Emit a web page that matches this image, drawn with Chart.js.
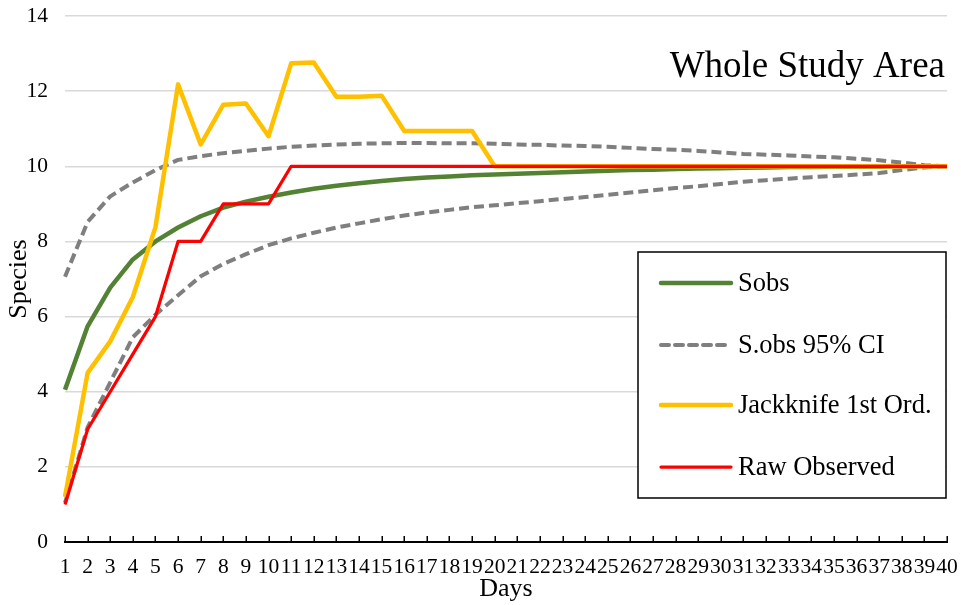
<!DOCTYPE html>
<html>
<head>
<meta charset="utf-8">
<title>Whole Study Area</title>
<script src="https://cdn.jsdelivr.net/npm/chart.js@4/dist/chart.umd.min.js"></script>
<style>
  html, body { margin: 0; padding: 0; background: #ffffff; }
  #wrap { width: 961px; height: 605px; position: relative; }
</style>
</head>
<body>
<div id="wrap"><canvas id="chart" width="961" height="605"></canvas></div>
<script>
// Sampling days
const days = ['1','2','3','4','5','6','7','8','9','10','11','12','13','14','15','16','17','18','19','20',
              '21','22','23','24','25','26','27','28','29','30','31','32','33','34','35','36','37','38','39','40'];

// Mean observed richness (Sobs)
const sobs = [4.05, 5.74, 6.77, 7.52, 8.00, 8.37, 8.67, 8.90, 9.06, 9.19,
              9.30, 9.40, 9.48, 9.55, 9.61, 9.66, 9.70, 9.73, 9.76, 9.78,
              9.80, 9.82, 9.84, 9.86, 9.88, 9.90, 9.91, 9.93, 9.94, 9.95,
              9.96, 9.97, 9.98, 9.98, 9.99, 9.99, 9.99, 10.0, 10.0, 10.0];

// 95% confidence bounds of Sobs
const ciUpper = [7.06, 8.52, 9.20, 9.57, 9.90, 10.17, 10.27, 10.35, 10.41, 10.47,
                 10.52, 10.55, 10.58, 10.60, 10.61, 10.62, 10.62, 10.61, 10.61, 10.60,
                 10.58, 10.57, 10.55, 10.54, 10.52, 10.49, 10.46, 10.44, 10.41, 10.37,
                 10.33, 10.31, 10.29, 10.26, 10.24, 10.20, 10.16, 10.10, 10.03, 10.0];
const ciLower = [1.04, 3.05, 4.25, 5.45, 6.05, 6.57, 7.07, 7.40, 7.66, 7.90,
                 8.08, 8.23, 8.37, 8.48, 8.59, 8.69, 8.77, 8.84, 8.91, 8.96,
                 9.02, 9.07, 9.13, 9.18, 9.24, 9.30, 9.36, 9.42, 9.47, 9.53,
                 9.59, 9.63, 9.67, 9.71, 9.74, 9.78, 9.82, 9.90, 9.97, 10.0];

// First-order jackknife estimate
const jackknife = [1.20, 4.50, 5.34, 6.52, 8.38, 12.18, 10.58, 11.64, 11.67, 10.80,
                   12.74, 12.76, 11.85, 11.85, 11.88, 10.94, 10.94, 10.94, 10.94, 10.0,
                   10, 10, 10, 10, 10, 10, 10, 10, 10, 10,
                   10, 10, 10, 10, 10, 10, 10, 10, 10, 10];

// Cumulative raw species count
const rawObserved = [1, 3, 4, 5, 6, 8, 8, 9, 9, 9,
                     10, 10, 10, 10, 10, 10, 10, 10, 10, 10,
                     10, 10, 10, 10, 10, 10, 10, 10, 10, 10,
                     10, 10, 10, 10, 10, 10, 10, 10, 10, 10];

const yTicks = [0, 2, 4, 6, 8, 10, 12, 14];

const SERIF = "'Liberation Serif', 'Times New Roman', serif";
const GREEN = '#548235', GRAY = '#7f7f7f', GOLD = '#FFC000', RED = '#FF0000';
const DASH = [10, 5];

// Legend entries (the two CI bounds share one entry)
const legendItems = [
  { text: 'Sobs', color: GREEN, width: 4.5, dash: [] },
  { text: 'S.obs 95% CI', color: GRAY, width: 4, dash: [8, 6] },
  { text: 'Jackknife 1st Ord.', color: GOLD, width: 4.5, dash: [] },
  { text: 'Raw Observed', color: RED, width: 3.25, dash: [] }
];

// Inward tick marks on the category axis
const innerTicks = {
  id: 'innerTicks',
  afterDatasetsDraw(chart) {
    const x = chart.scales.x, ctx = chart.ctx, y0 = chart.chartArea.bottom;
    ctx.save();
    ctx.strokeStyle = '#000';
    ctx.lineWidth = 1.5;
    ctx.beginPath();
    for (let i = 0; i < x.ticks.length; i++) {
      const px = Math.round(x.getPixelForTick(i)) + 0.25;
      ctx.moveTo(px, y0);
      ctx.lineTo(px, y0 - 6);
    }
    ctx.stroke();
    ctx.restore();
  }
};

// In-plot title and boxed legend
const overlay = {
  id: 'overlay',
  afterDraw(chart) {
    const ctx = chart.ctx, a = chart.chartArea;
    ctx.save();
    ctx.fillStyle = '#000';
    ctx.font = '37px ' + SERIF;
    ctx.textAlign = 'right';
    ctx.textBaseline = 'alphabetic';
    ctx.fillText('Whole Study Area', a.right - 2, 77);

    const bx = a.right - 309, by = 252, bw = 308, bh = 246;
    ctx.fillStyle = '#fff';
    ctx.fillRect(bx, by, bw, bh);
    ctx.strokeStyle = '#000';
    ctx.lineWidth = 1.5;
    ctx.strokeRect(bx, by, bw, bh);

    const rows = [283, 345, 405, 467];
    ctx.font = '26.5px ' + SERIF;
    ctx.textAlign = 'left';
    ctx.textBaseline = 'middle';
    legendItems.forEach((it, i) => {
      const y = rows[i];
      ctx.beginPath();
      ctx.strokeStyle = it.color;
      ctx.lineWidth = it.width;
      ctx.lineCap = 'round';
      ctx.setLineDash(it.dash);
      ctx.moveTo(bx + 23, y);
      ctx.lineTo(bx + 93, y);
      ctx.stroke();
      ctx.setLineDash([]);
      ctx.fillStyle = '#000';
      ctx.fillText(it.text, bx + 100, y + 1);
    });
    ctx.restore();
  }
};

const line = (label, data, color, width, order, dash) => ({
  label, data,
  borderColor: color,
  backgroundColor: color,
  borderWidth: width,
  borderDash: dash || [],
  pointRadius: 0,
  pointHoverRadius: 0,
  tension: 0,
  fill: false,
  borderJoinStyle: 'round',
  order
});

new Chart(document.getElementById('chart'), {
  type: 'line',
  data: {
    labels: days,
    datasets: [
      line('Sobs', sobs, GREEN, 4.5, 4),
      line('S.obs 95% CI', ciUpper, GRAY, 4, 3, DASH),
      line('S.obs 95% CI lower', ciLower, GRAY, 4, 2, DASH),
      line('Jackknife 1st Ord.', jackknife, GOLD, 4.5, 1),
      line('Raw Observed', rawObserved, RED, 3.25, 0)
    ]
  },
  options: {
    responsive: false,
    animation: false,
    events: [],
    layout: { padding: { top: 16, right: 14, bottom: 0, left: 0 } },
    plugins: {
      legend: { display: false },
      title: { display: false },
      tooltip: { enabled: false }
    },
    scales: {
      x: {
        type: 'category',
        offset: false,
        grid: { display: false, drawTicks: false },
        border: { display: true, color: '#000', width: 2 },
        ticks: {
          autoSkip: false,
          maxRotation: 0,
          minRotation: 0,
          padding: 12,
          color: '#000',
          font: { family: SERIF, size: 21.5 }
        },
        title: {
          display: true,
          text: 'Days',
          color: '#000',
          font: { family: SERIF, size: 26 },
          padding: { top: 0, bottom: 0 }
        },
        afterFit(scale) {
          scale.height = 63;
          scale.paddingLeft = 0;
          scale.paddingRight = 0;
        }
      },
      y: {
        min: 0,
        max: 14,
        afterBuildTicks(scale) { scale.ticks = yTicks.map(v => ({ value: v })); },
        grid: { color: '#d9d9d9', lineWidth: 1.5, drawTicks: false },
        border: { display: false },
        ticks: {
          padding: 17,
          color: '#000',
          font: { family: SERIF, size: 21.5 }
        },
        title: {
          display: true,
          text: 'Species',
          color: '#000',
          font: { family: SERIF, size: 26 },
          padding: { top: 4, bottom: 0 }
        },
        afterFit(scale) {
          scale.width = 65;
          scale.paddingTop = 0;
          scale.paddingBottom = 0;
        }
      }
    }
  },
  plugins: [innerTicks, overlay]
});
</script>
</body>
</html>
